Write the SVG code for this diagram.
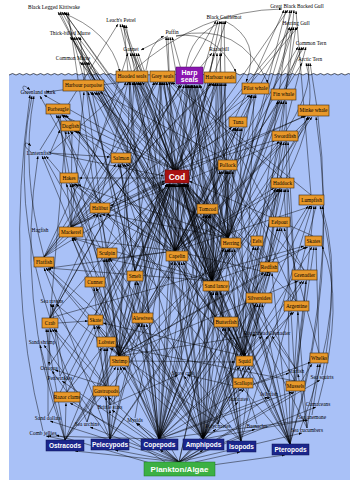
<svg xmlns="http://www.w3.org/2000/svg" width="350" height="480" viewBox="0 0 350 480">
<defs>
<marker id="a" viewBox="0 0 4 3" refX="4" refY="1.5" markerWidth="3.2" markerHeight="2.4" markerUnits="userSpaceOnUse" orient="auto"><path d="M0 0L4 1.5L0 3z" fill="#000"/></marker>
<style>
.bx{fill:#e8982a;stroke:#3a2a12;stroke-width:0.6}
.nv{fill:#1b268c;stroke:#0c1450;stroke-width:0.5}
.t{font-family:"Liberation Serif","Times New Roman",serif;font-size:5.3px;fill:#000;text-anchor:middle}
.w{font-family:"Liberation Sans",Arial,sans-serif;font-weight:bold;fill:#fff;text-anchor:middle}
#connectors path{fill:none;stroke:#000;stroke-width:0.5;stroke-opacity:0.9;marker-end:url(#a)}
</style>
</defs>
<rect width="350" height="480" fill="#fff"/>
<path d="M9 75q3.5 -3 7 0q3.5 -3 7 0q3.5 -3 7 0q3.5 -3 7 0q3.5 -3 7 0q3.5 -3 7 0q3.5 -3 7 0q3.5 -3 7 0q3.5 -3 7 0q3.5 -3 7 0q3.5 -3 7 0q3.5 -3 7 0q3.5 -3 7 0q3.5 -3 7 0q3.5 -3 7 0q3.5 -3 7 0q3.5 -3 7 0q3.5 -3 7 0q3.5 -3 7 0q3.5 -3 7 0q3.5 -3 7 0q3.5 -3 7 0q3.5 -3 7 0q3.5 -3 7 0q3.5 -3 7 0q3.5 -3 7 0q3.5 -3 7 0q3.5 -3 7 0q3.5 -3 7 0q3.5 -3 7 0q3.5 -3 7 0q3.5 -3 7 0q3.5 -3 7 0q3.5 -3 7 0q3.5 -3 7 0q3.5 -3 7 0q3.5 -3 7 0q3.5 -3 7 0q3.5 -3 7 0q3.5 -3 7 0q3.5 -3 7 0q3.5 -3 7 0q3.5 -3 7 0q3.5 -3 7 0q3.5 -3 7 0q3.5 -3 7 0q3.5 -3 7 0q3.5 -3 7 0q3.5 -3 7 0L350 480L9 480Z" fill="#a9c1f7" stroke="none"/>
<path d="M9 75q3.5 -3 7 0q3.5 -3 7 0q3.5 -3 7 0q3.5 -3 7 0q3.5 -3 7 0q3.5 -3 7 0q3.5 -3 7 0q3.5 -3 7 0q3.5 -3 7 0q3.5 -3 7 0q3.5 -3 7 0q3.5 -3 7 0q3.5 -3 7 0q3.5 -3 7 0q3.5 -3 7 0q3.5 -3 7 0q3.5 -3 7 0q3.5 -3 7 0q3.5 -3 7 0q3.5 -3 7 0q3.5 -3 7 0q3.5 -3 7 0q3.5 -3 7 0q3.5 -3 7 0q3.5 -3 7 0q3.5 -3 7 0q3.5 -3 7 0q3.5 -3 7 0q3.5 -3 7 0q3.5 -3 7 0q3.5 -3 7 0q3.5 -3 7 0q3.5 -3 7 0q3.5 -3 7 0q3.5 -3 7 0q3.5 -3 7 0q3.5 -3 7 0q3.5 -3 7 0q3.5 -3 7 0q3.5 -3 7 0q3.5 -3 7 0q3.5 -3 7 0q3.5 -3 7 0q3.5 -3 7 0q3.5 -3 7 0q3.5 -3 7 0q3.5 -3 7 0q3.5 -3 7 0q3.5 -3 7 0" fill="none" stroke="#000" stroke-width="0.6"/>
<g id="connectors">
<path d="M175 251L60 12"/><path d="M212 281L62 12"/><path d="M228 238L64 12"/><path d="M135 271L66 12"/><path d="M244 356L58 12"/><path d="M119 356L68 12"/><path d="M176 170L64 12"/>
<path d="M40 150L118 24"/><path d="M175 251L120 24"/><path d="M212 281L122 24"/><path d="M159 439L124 25"/><path d="M203 439L126 25"/><path d="M176 170L124 25"/>
<path d="M175 251L74 37"/><path d="M212 281L76 37"/><path d="M228 238L78 37"/><path d="M244 356L72 37"/><path d="M119 356L80 37"/><path d="M175 172L70 37"/>
<path d="M175 251L82 62"/><path d="M212 281L84 62"/><path d="M228 238L86 62"/><path d="M175 172L80 62"/><path d="M244 356L88 62"/>
<path d="M71 227L128 53"/><path d="M228 238L132 53"/><path d="M175 251L134 53"/><path d="M212 281L136 53"/><path d="M244 356L138 53"/><path d="M175 172L130 53"/><path d="M168 36L141 50"/>
<path d="M175 251L168 37"/><path d="M212 281L170 37"/><path d="M228 238L172 37"/><path d="M176 172L166 37"/><path d="M146 70Q150 42 164 36"/>
<path d="M175 251L220 21"/><path d="M212 281L222 21"/><path d="M228 238L224 21"/><path d="M119 356L218 21"/><path d="M176 172L226 21"/><path d="M50 318L216 21"/>
<path d="M175 251L214 53"/><path d="M212 281L217 53"/><path d="M228 238L220 53"/><path d="M176 172L222 53"/><path d="M71 227L212 53"/>
<path d="M175 251L284 10"/><path d="M228 238L286 10"/><path d="M176 172L288 10"/><path d="M244 356L290 10"/><path d="M212 281L292 10"/><path d="M269 262L294 10"/><path d="M311 195L296 11"/><path d="M132 72Q200 10 282 9"/>
<path d="M175 251L290 27"/><path d="M228 238L292 27"/><path d="M212 281L294 27"/><path d="M244 356L296 27"/><path d="M176 172L298 27"/><path d="M176 170L292 28"/>
<path d="M175 251L298 47"/><path d="M212 281L300 47"/><path d="M228 238L302 47"/><path d="M119 356L304 47"/><path d="M203 439L306 47"/>
<path d="M212 281Q330 150 306 63"/><path d="M175 251Q320 120 308 63"/><path d="M290 444Q345 250 310 63"/><path d="M119 356L302 63"/>
<path d="M176 36Q215 30 236 72"/><path d="M176 36Q240 20 268 83"/><path d="M225 21Q262 40 246 82"/><path d="M186 68Q190 35 222 22"/><path d="M60 12Q110 30 120 72"/>
<path d="M176 170L134 82"/><path d="M175 251L132 82"/><path d="M228 238L136 82"/><path d="M269 262L138 82"/><path d="M100 203L128 82"/><path d="M44 257L126 82"/><path d="M244 356L140 82"/><path d="M119 356L130 82"/><path d="M304 270L142 82"/>
<path d="M176 170L164 82"/><path d="M71 227L158 82"/><path d="M228 238L166 82"/><path d="M212 281L162 82"/><path d="M44 257L156 82"/><path d="M107 248L154 82"/><path d="M227 160L168 82"/><path d="M282 178L170 82"/><path d="M311 195L172 82"/>
<path d="M176 170L186 85"/><path d="M175 251L188 85"/><path d="M228 238L192 85"/><path d="M212 281L190 85"/><path d="M269 262L194 85"/><path d="M244 356L196 85"/><path d="M119 356L184 85"/><path d="M44 257L182 85"/><path d="M203 439L189 85"/><path d="M207 204L191 85"/><path d="M50 318L180 85"/><path d="M304 270L200 85"/><path d="M296 301L199 85"/><path d="M159 439L187 85"/><path d="M290 444L197 85"/>
<path d="M176 170L216 83"/><path d="M228 238L220 83"/><path d="M212 281L222 83"/><path d="M71 227L214 83"/><path d="M142 313L218 83"/><path d="M227 160L224 83"/><path d="M207 204L226 83"/><path d="M44 257L212 83"/><path d="M135 271L210 83"/>
<path d="M176 170L90 92"/><path d="M228 238L94 92"/><path d="M175 251L92 92"/><path d="M71 227L84 92"/><path d="M244 356L96 92"/><path d="M135 271L88 92"/><path d="M212 281L98 92"/><path d="M227 160L100 92"/>
<path d="M244 356L254 95"/><path d="M71 227L250 95"/><path d="M176 170L252 95"/><path d="M228 238L256 95"/>
<path d="M175 251L280 101"/><path d="M228 238L282 101"/><path d="M159 439L284 101"/><path d="M212 281L278 101"/><path d="M290 444L286 101"/>
<path d="M175 251L310 117"/><path d="M228 238L312 117"/><path d="M212 281L308 117"/><path d="M176 170L306 116"/><path d="M71 227L304 116"/><path d="M290 444Q340 280 316 117"/>
<path d="M176 170L44 95"/><path d="M132 81L46 92"/><path d="M100 203L40 96"/><path d="M44 257Q20 170 34 96"/><path d="M50 318Q10 200 32 96"/><path d="M43 431Q4 280 30 95"/><path d="M28 94C20 88 22 82 30 90"/>
<path d="M176 170L62 115"/><path d="M71 227L60 115"/><path d="M228 238L64 115"/><path d="M244 356L66 115"/><path d="M69 173L58 115"/><path d="M100 203L56 115"/>
<path d="M176 170L74 131"/><path d="M228 238L76 131"/><path d="M71 227L72 131"/><path d="M244 356L78 131"/><path d="M175 251L70 131"/><path d="M119 356L68 131"/><path d="M50 318L66 131"/>
<path d="M159 439L42 156"/><path d="M203 439L44 156"/><path d="M65 440Q15 300 38 156"/><path d="M290 444L46 156"/><path d="M31 152C22 146 24 139 31 146"/>
<path d="M50 153L110 157"/><path d="M50 153L164 176"/><path d="M50 153L131 81"/><path d="M50 153L60 130"/>
<path d="M175 251L124 164"/><path d="M212 281L122 164"/><path d="M228 238L126 164"/><path d="M135 271L120 164"/><path d="M203 439L118 164"/><path d="M44 257L116 164"/>
<path d="M175 251L72 184"/><path d="M228 238L74 184"/><path d="M244 356L76 184"/><path d="M119 356L70 184"/><path d="M212 281L78 184"/><path d="M203 439L66 184"/><path d="M165 178L79 178"/>
<path d="M175 251L102 214"/><path d="M228 238L106 214"/><path d="M244 356L108 214"/><path d="M44 257L96 214"/><path d="M50 318L98 214"/><path d="M107 248L100 214"/><path d="M165 180L110 206"/>
<path d="M65 440L170 184"/><path d="M110 439L172 184"/><path d="M159 439L174 184"/><path d="M203 439L178 184"/><path d="M241 441L182 184"/><path d="M290 444L184 184"/><path d="M175 251L176 184"/><path d="M212 281L180 184"/><path d="M228 238L183 184"/><path d="M119 356L173 184"/><path d="M244 356L181 184"/><path d="M50 318L168 184"/><path d="M106 337L170 184"/><path d="M135 271L172 184"/><path d="M142 313L174 184"/><path d="M71 227L165 181"/><path d="M107 248L169 184"/><path d="M44 257L165 183"/><path d="M207 204L182 184"/><path d="M269 262L185 184"/><path d="M259 293L184 184"/><path d="M296 301L186 184"/><path d="M243 378L180 184"/><path d="M295 381L187 184"/><path d="M106 386L171 184"/><path d="M67 392L168 184"/><path d="M110 405L173 184"/><path d="M135 418L175 184"/><path d="M182 371L177 184"/><path d="M87 422L170 184"/><path d="M218 424L179 184"/><path d="M257 424L183 184"/><path d="M226 317L181 184"/><path d="M95 315L171 184"/><path d="M60 376L169 184"/><path d="M49 366L167 184"/><path d="M296 369L185 184"/><path d="M313 236L189 181"/><path d="M307 428L186 184"/><path d="M269 392L184 184"/><path d="M238 397L182 184"/><path d="M48 416L167 184"/>
<path d="M71 227L236 128"/><path d="M228 238L238 128"/><path d="M244 356L240 128"/><path d="M175 251L234 128"/><path d="M212 281L242 128"/><path d="M176 170L232 127"/>
<path d="M244 356L284 142"/><path d="M71 227L280 142"/><path d="M228 238L282 142"/><path d="M269 262L286 142"/><path d="M176 170L276 140"/><path d="M296 301L288 142"/>
<path d="M175 251L224 171"/><path d="M228 238L228 171"/><path d="M212 281L226 171"/><path d="M119 356L222 171"/><path d="M203 439L230 171"/><path d="M159 439L220 171"/><path d="M259 293L232 171"/>
<path d="M295 381L284 189"/><path d="M203 439L280 189"/><path d="M218 424L278 189"/><path d="M110 405L276 189"/><path d="M212 281L282 189"/><path d="M175 251L274 188"/><path d="M243 378L286 189"/><path d="M307 428L288 189"/>
<path d="M290 444L314 206"/><path d="M203 439L310 206"/><path d="M159 439L308 206"/><path d="M241 441L312 206"/><path d="M269 392L316 206"/><path d="M322 375Q342 280 320 206"/><path d="M300 430Q350 300 322 206"/>
<path d="M203 439L206 215"/><path d="M159 439L204 215"/><path d="M241 441L208 215"/><path d="M119 356L210 215"/>
<path d="M203 439L278 228"/><path d="M218 424L280 228"/><path d="M319 353L284 228"/><path d="M243 378L282 228"/>
<path d="M203 439L256 247"/><path d="M159 439L254 247"/><path d="M218 424L258 247"/>
<path d="M159 439L228 249"/><path d="M203 439L230 249"/><path d="M290 444L234 249"/><path d="M241 441L232 249"/><path d="M179 462L226 249"/><path d="M65 440L224 249"/>
<path d="M244 356L312 247"/><path d="M119 356L306 247"/><path d="M50 318L304 246"/><path d="M212 281L308 247"/><path d="M295 381L314 247"/><path d="M319 353L316 247"/><path d="M318 404Q346 300 322 246"/>
<path d="M159 439L266 273"/><path d="M203 439L268 273"/><path d="M290 444L272 273"/><path d="M119 356L264 273"/>
<path d="M244 356L302 281"/><path d="M119 356L298 281"/><path d="M203 439L304 281"/><path d="M296 369L306 281"/>
<path d="M159 439L214 292"/><path d="M203 439L216 292"/><path d="M110 439L212 292"/><path d="M179 462L218 292"/><path d="M290 444L220 292"/>
<path d="M159 439L256 304"/><path d="M203 439L258 304"/><path d="M290 444L262 304"/><path d="M241 441L260 304"/>
<path d="M159 439L294 312"/><path d="M290 444L298 312"/><path d="M203 439L292 312"/>
<path d="M119 356L56 304"/><path d="M50 318L54 304"/><path d="M106 386L50 304"/><path d="M60 376L52 304"/>
<path d="M110 405L52 329"/><path d="M106 386L54 329"/><path d="M48 416L48 329"/><path d="M87 422L50 329"/><path d="M67 392L56 329"/><path d="M65 440L46 329"/>
<path d="M119 356L98 326"/><path d="M58 323L88 321"/><path d="M106 337L96 326"/><path d="M110 405L94 326"/><path d="M244 356L103 323"/>
<path d="M159 439L144 324"/><path d="M203 439L146 324"/><path d="M65 440L140 324"/><path d="M110 439L142 324"/>
<path d="M159 439L224 328"/><path d="M203 439L226 328"/><path d="M269 392L228 328"/>
<path d="M119 356L256 335"/><path d="M244 356L262 336"/><path d="M203 439L268 336"/><path d="M296 369L272 336"/>
<path d="M110 405L104 348"/><path d="M106 386L106 348"/><path d="M87 422L108 348"/><path d="M67 392L102 348"/><path d="M218 424L110 348"/><path d="M295 381L114 346"/>
<path d="M110 439L44 345"/><path d="M65 440L40 345"/>
<path d="M159 439L120 367"/><path d="M203 439L122 367"/><path d="M179 462L124 367"/><path d="M65 440L116 367"/><path d="M110 439L118 367"/>
<path d="M159 439L240 367"/><path d="M203 439L244 367"/><path d="M177 261L242 356"/><path d="M216 291L246 356"/><path d="M290 444L248 367"/><path d="M129 361L235 362"/>
<path d="M295 391L312 364"/><path d="M243 388L311 362"/><path d="M307 428L318 364"/><path d="M312 415L320 364"/>
<path d="M50 328L49 365"/><path d="M106 386L55 370"/><path d="M67 392L52 371"/>
<path d="M218 424L184 376"/><path d="M110 405L178 375"/><path d="M243 388L187 375"/>
<path d="M243 388L289 373"/><path d="M307 428L298 374"/>
<path d="M179 462L62 381"/><path d="M179 462L320 380"/><path d="M159 439L242 389"/><path d="M179 462L244 389"/><path d="M179 462L294 392"/><path d="M159 439L292 392"/><path d="M179 462L108 397"/><path d="M110 439L106 397"/><path d="M179 462L70 403"/><path d="M65 440L66 403"/><path d="M159 439L268 397"/><path d="M203 439L270 397"/><path d="M179 462L238 402"/><path d="M179 462L316 407"/><path d="M179 462L112 410"/><path d="M110 439L110 410"/><path d="M203 439L308 420"/><path d="M159 439L306 420"/><path d="M179 462L50 421"/><path d="M179 462L90 427"/><path d="M179 462L136 423"/><path d="M159 439L137 423"/><path d="M179 462L255 429"/><path d="M179 462L216 429"/><path d="M179 462L302 433"/><path d="M159 439L48 436"/><path d="M65 440L46 436"/>
<path d="M179 462L75 451"/><path d="M179 462L115 450"/><path d="M179 462L160 450"/><path d="M185 462L203 450"/><path d="M195 462L240 452"/><path d="M205 466L285 455"/><path d="M150 463L56 435"/><path d="M165 462L70 400"/>
<path d="M159 439L130 82"/><path d="M159 439L160 82"/><path d="M159 439L214 83"/><path d="M159 439L92 92"/><path d="M159 439L252 95"/><path d="M159 439L308 117"/><path d="M159 439L236 128"/><path d="M159 439L120 164"/><path d="M159 439L72 184"/><path d="M159 439L175 262"/><path d="M159 439L135 282"/><path d="M159 439L72 238"/><path d="M159 439L106 259"/>
<path d="M203 439L134 82"/><path d="M203 439L164 82"/><path d="M203 439L218 83"/><path d="M203 439L179 262"/><path d="M203 439L137 282"/><path d="M203 439L74 238"/><path d="M203 439L108 259"/><path d="M203 439L46 268"/><path d="M203 439L96 288"/>
<path d="M241 441L192 85"/><path d="M241 441L166 82"/><path d="M241 441L181 262"/><path d="M241 441L48 268"/><path d="M241 441L110 259"/>
<path d="M110 439L44 268"/><path d="M110 439L94 288"/><path d="M110 439L104 259"/><path d="M110 439L278 189"/>
<path d="M65 440L173 262"/><path d="M290 444L183 262"/><path d="M290 444L194 85"/><path d="M290 444L138 82"/>
<path d="M244 356L226 171"/><path d="M244 356L282 189"/><path d="M244 356L270 273"/>
<path d="M119 356L134 82"/><path d="M119 356L160 82"/><path d="M119 356L106 259"/><path d="M119 356L46 268"/><path d="M119 356L96 288"/><path d="M119 356L72 238"/><path d="M119 356L230 249"/>
<path d="M175 251L160 82"/><path d="M175 251L216 83"/><path d="M175 251L252 95"/><path d="M175 251L62 115"/><path d="M175 251L238 128"/><path d="M175 251L282 142"/><path d="M175 251L280 189"/><path d="M175 251L312 206"/><path d="M175 251L50 268"/><path d="M175 251L108 259"/><path d="M175 251L72 238"/><path d="M175 251L270 273"/><path d="M175 251L208 215"/>
<path d="M212 281L134 82"/><path d="M212 281L194 85"/><path d="M212 281L252 95"/><path d="M212 281L72 238"/><path d="M212 281L108 259"/><path d="M212 281L48 268"/><path d="M212 281L210 215"/><path d="M212 281L228 171"/>
<path d="M228 238L188 85"/><path d="M142 313L162 82"/><path d="M135 271L192 85"/><path d="M207 204L166 82"/>
</g>
<g id="black-legged-kittiwake"><text class="t" x="54" y="9">Black Legged Kittiwake</text></g>
<g id="leachs-petrel"><text class="t" x="121" y="22">Leach's Petrel</text></g>
<g id="thick-billed-murre"><text class="t" x="70" y="35">Thick-billed Murre</text></g>
<g id="puffin"><text class="t" x="172" y="34">Puffin</text></g>
<g id="gannet"><text class="t" x="131" y="51">Gannet</text></g>
<g id="common-murre"><text class="t" x="73" y="60">Common Murre</text></g>
<g id="black-guillemot"><text class="t" x="224" y="19">Black Guillemot</text></g>
<g id="great-black-backed-gull"><text class="t" x="297" y="8">Great Black Backed Gull</text></g>
<g id="herring-gull"><text class="t" x="296" y="25">Herring Gull</text></g>
<g id="common-tern"><text class="t" x="311" y="45">Common Tern</text></g>
<g id="arctic-tern"><text class="t" x="310" y="61">Arctic Tern</text></g>
<g id="razorbill"><text class="t" x="219" y="51">Razorbill</text></g>
<g id="hooded-seals"><rect class="bx" x="116" y="71" width="32" height="11"/><text class="t" x="132" y="78.3">Hooded seals</text></g>
<g id="grey-seals"><rect class="bx" x="150" y="71" width="25" height="11"/><text class="t" x="162.5" y="78.3">Grey seals</text></g>
<g id="harp-seals"><rect x="176" y="67" width="27" height="17" fill="#8a16b0" stroke="#4a0a60" stroke-width="0.5"/><text class="w" x="189.5" y="74.5" font-size="7">Harp</text><text class="w" x="189.5" y="81.5" font-size="7">seals</text></g>
<g id="harbour-seals"><rect class="bx" x="204" y="72" width="32" height="11"/><text class="t" x="220" y="79.3">Harbour seals</text></g>
<g id="harbour-porpoise"><rect class="bx" x="63" y="80" width="41" height="11"/><text class="t" x="83.5" y="87.3">Harbour porpoise</text></g>
<g id="pilot-whale"><rect class="bx" x="242" y="83" width="27" height="11"/><text class="t" x="255.5" y="90.3">Pilot whale</text></g>
<g id="fin-whale"><rect class="bx" x="271" y="89" width="25" height="11"/><text class="t" x="283.5" y="96.3">Fin whale</text></g>
<g id="minke-whale"><rect class="bx" x="298" y="105" width="31" height="11"/><text class="t" x="313.5" y="112.3">Minke whale</text></g>
<g id="greenland-shark"><text class="t" x="38" y="94">Greenland shark</text></g>
<g id="porbeagle"><rect class="bx" x="46" y="104" width="24" height="10"/><text class="t" x="58" y="110.8">Porbeagle</text></g>
<g id="dogfish"><rect class="bx" x="61" y="121" width="19" height="10"/><text class="t" x="70.5" y="127.8">Dogfish</text></g>
<g id="lanternfish"><text class="t" x="39" y="155">Lanternfish</text></g>
<g id="salmon"><rect class="bx" x="111" y="153" width="20" height="10"/><text class="t" x="121" y="159.8">Salmon</text></g>
<g id="hakes"><rect class="bx" x="60" y="173" width="18" height="10"/><text class="t" x="69" y="179.8">Hakes</text></g>
<g id="halibut"><rect class="bx" x="90" y="203" width="20" height="10"/><text class="t" x="100" y="209.8">Halibut</text></g>
<g id="cod"><rect x="165" y="170" width="24" height="13" fill="#a81212" stroke="#5a0808" stroke-width="0.5"/><text class="w" x="177" y="179.8" font-size="8.5">Cod</text></g>
<g id="tuna"><rect class="bx" x="229" y="117" width="18" height="10"/><text class="t" x="238" y="123.8">Tuna</text></g>
<g id="swordfish"><rect class="bx" x="272" y="131" width="26" height="10"/><text class="t" x="285" y="137.8">Swordfish</text></g>
<g id="pollock"><rect class="bx" x="218" y="160" width="19" height="10"/><text class="t" x="227.5" y="166.8">Pollock</text></g>
<g id="haddock"><rect class="bx" x="271" y="178" width="23" height="10"/><text class="t" x="282.5" y="184.8">Haddock</text></g>
<g id="lumpfish"><rect class="bx" x="299" y="195" width="25" height="10"/><text class="t" x="311.5" y="201.8">Lumpfish</text></g>
<g id="tomcod"><rect class="bx" x="197" y="204" width="21" height="10"/><text class="t" x="207.5" y="210.8">Tomcod</text></g>
<g id="hagfish"><text class="t" x="40" y="232">Hagfish</text></g>
<g id="mackerel"><rect class="bx" x="59" y="227" width="24" height="10"/><text class="t" x="71" y="233.8">Mackerel</text></g>
<g id="sculpin"><rect class="bx" x="97" y="248" width="20" height="10"/><text class="t" x="107" y="254.8">Sculpin</text></g>
<g id="flatfish"><rect class="bx" x="34" y="257" width="20" height="10"/><text class="t" x="44" y="263.8">Flatfish</text></g>
<g id="capelin"><rect class="bx" x="166" y="251" width="22" height="10"/><text class="t" x="177" y="257.8">Capelin</text></g>
<g id="smelt"><rect class="bx" x="127" y="271" width="16" height="10"/><text class="t" x="135" y="277.8">Smelt</text></g>
<g id="cunner"><rect class="bx" x="85" y="277" width="20" height="10"/><text class="t" x="95" y="283.8">Cunner</text></g>
<g id="eelpout"><rect class="bx" x="269" y="217" width="21" height="10"/><text class="t" x="279.5" y="223.8">Eelpout</text></g>
<g id="herring"><rect class="bx" x="221" y="238" width="20" height="10"/><text class="t" x="231" y="244.8">Herring</text></g>
<g id="eels"><rect class="bx" x="251" y="236" width="12" height="10"/><text class="t" x="257" y="242.8">Eels</text></g>
<g id="skates"><rect class="bx" x="305" y="236" width="17" height="10"/><text class="t" x="313.5" y="242.8">Skates</text></g>
<g id="redfish"><rect class="bx" x="260" y="262" width="18" height="10"/><text class="t" x="269" y="268.8">Redfish</text></g>
<g id="grenadier"><rect class="bx" x="292" y="270" width="25" height="10"/><text class="t" x="304.5" y="276.8">Grenadier</text></g>
<g id="sand-lance"><rect class="bx" x="203" y="281" width="26" height="10"/><text class="t" x="216" y="287.8">Sand lance</text></g>
<g id="silversides"><rect class="bx" x="246" y="293" width="26" height="10"/><text class="t" x="259" y="299.8">Silversides</text></g>
<g id="argentine"><rect class="bx" x="284" y="301" width="25" height="10"/><text class="t" x="296.5" y="307.8">Argentine</text></g>
<g id="sea-ravens"><text class="t" x="52" y="303">Sea ravens</text></g>
<g id="crab"><rect class="bx" x="42" y="318" width="16" height="10"/><text class="t" x="50" y="324.8">Crab</text></g>
<g id="skate"><rect class="bx" x="88" y="315" width="15" height="10"/><text class="t" x="95.5" y="321.8">Skate</text></g>
<g id="alewives"><rect class="bx" x="132" y="313" width="21" height="10"/><text class="t" x="142.5" y="319.8">Alewives</text></g>
<g id="butterfish"><rect class="bx" x="214" y="317" width="24" height="10"/><text class="t" x="226" y="323.8">Butterfish</text></g>
<g id="roughhead-grenadier"><text class="t" x="267" y="335">Roughhead Grenadier</text></g>
<g id="lobster"><rect class="bx" x="97" y="337" width="19" height="10"/><text class="t" x="106.5" y="343.8">Lobster</text></g>
<g id="sand-shrimp"><text class="t" x="42" y="344">Sand shrimp</text></g>
<g id="shrimp"><rect class="bx" x="110" y="356" width="19" height="10"/><text class="t" x="119.5" y="362.8">Shrimp</text></g>
<g id="squid"><rect class="bx" x="236" y="356" width="17" height="10"/><text class="t" x="244.5" y="362.8">Squid</text></g>
<g id="whelks"><rect class="bx" x="310" y="353" width="18" height="10"/><text class="t" x="319" y="359.8">Whelks</text></g>
<g id="octopus"><text class="t" x="49" y="370">Octopus</text></g>
<g id="snow-crab"><text class="t" x="183" y="375">Snow crab</text></g>
<g id="starfish"><text class="t" x="296" y="373">Starfish</text></g>
<g id="sea-squirts"><text class="t" x="322" y="379">Sea squirts</text></g>
<g id="periwinkles"><text class="t" x="60" y="380">Periwinkles</text></g>
<g id="scallops"><rect class="bx" x="233" y="378" width="20" height="10"/><text class="t" x="243" y="384.8">Scallops</text></g>
<g id="mussels"><rect class="bx" x="286" y="381" width="19" height="10"/><text class="t" x="295.5" y="387.8">Mussels</text></g>
<g id="gastropods"><rect class="bx" x="93" y="386" width="26" height="10"/><text class="t" x="106" y="392.8">Gastropods</text></g>
<g id="razor-clams"><rect class="bx" x="54" y="392" width="26" height="10"/><text class="t" x="67" y="398.8">Razor clams</text></g>
<g id="jellyfish"><text class="t" x="269" y="396">Jellyfish</text></g>
<g id="tunicates"><text class="t" x="238" y="401">Tunicates</text></g>
<g id="cumaceans"><text class="t" x="318" y="406">Cumaceans</text></g>
<g id="brittle-stars"><text class="t" x="110" y="409">Brittle stars</text></g>
<g id="sea-anemone"><text class="t" x="312" y="419">Sea anemone</text></g>
<g id="sand-dollars"><text class="t" x="48" y="420">Sand dollars</text></g>
<g id="sea-urchins"><text class="t" x="87" y="426">Sea urchins</text></g>
<g id="mysids"><text class="t" x="135" y="422">Mysids</text></g>
<g id="barnacles"><text class="t" x="257" y="428">Barnacles</text></g>
<g id="polychaetes"><text class="t" x="218" y="428">Polychaetes</text></g>
<g id="sea-cucumbers"><text class="t" x="307" y="432">Sea cucumbers</text></g>
<g id="comb-jellies"><text class="t" x="43" y="435">Comb jellies</text></g>
<g id="ostracods"><rect class="nv" x="46" y="440" width="38" height="11"/><text class="w" x="65" y="448" font-size="6.5">Ostracods</text></g>
<g id="pelecypods"><rect class="nv" x="91" y="439" width="38" height="11"/><text class="w" x="110" y="447" font-size="6.5">Pelecypods</text></g>
<g id="copepods"><rect class="nv" x="141" y="439" width="37" height="11"/><text class="w" x="159.5" y="447" font-size="6.5">Copepods</text></g>
<g id="amphipods"><rect class="nv" x="183" y="439" width="41" height="11"/><text class="w" x="203.5" y="447" font-size="6.5">Amphipods</text></g>
<g id="isopods"><rect class="nv" x="227" y="441" width="29" height="11"/><text class="w" x="241.5" y="449" font-size="6.5">Isopods</text></g>
<g id="pteropods"><rect class="nv" x="272" y="444" width="37" height="11"/><text class="w" x="290.5" y="452" font-size="6.5">Pteropods</text></g>
<g id="plankton-algae"><rect x="144" y="462" width="71" height="14" fill="#3cb043" stroke="#1e7a22" stroke-width="0.5"/><text class="w" x="179.5" y="472.3" font-size="8">Plankton/Algae</text></g>
</svg>
